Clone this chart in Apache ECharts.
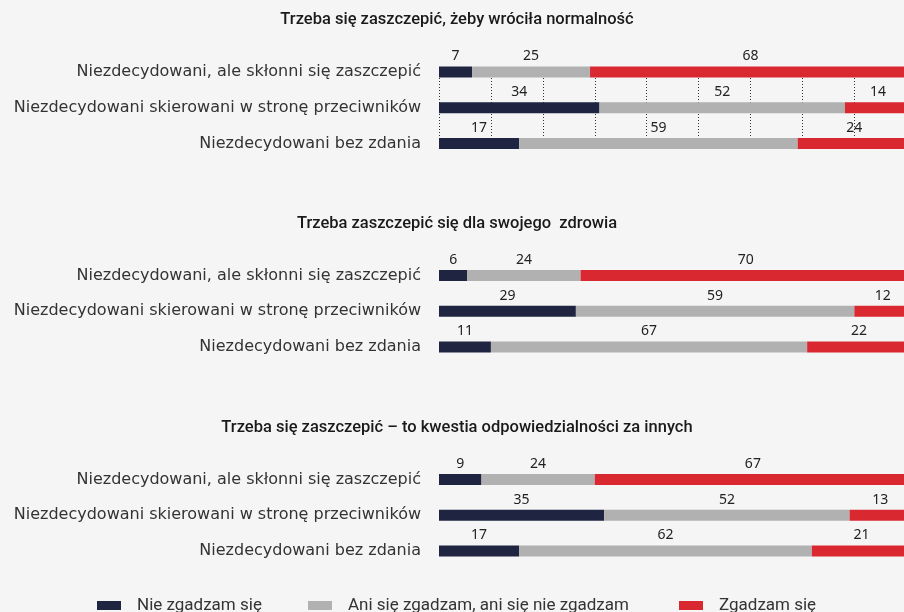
<!DOCTYPE html>
<html>
<head>
<meta charset="utf-8">
<script src="https://cdn.jsdelivr.net/npm/echarts@6/dist/echarts.min.js"></script>
<style>
  html, body { margin: 0; padding: 0; background: #f5f5f5; }
  #chart { width: 904px; height: 612px; }
</style>
</head>
<body>
<div id="chart"></div>
<script>
var categories = [
  "Niezdecydowani, ale skłonni się zaszczepić",
  "Niezdecydowani skierowani w stronę przeciwników",
  "Niezdecydowani bez zdania"
];
var titles = [
  "Trzeba się zaszczepić, żeby wróciła normalność",
  "Trzeba zaszczepić się dla swojego  zdrowia",
  "Trzeba się zaszczepić – to kwestia odpowiedzialności za innych"
];
var seriesNames = ["Nie zgadzam się", "Ani się zgadzam, ani się nie zgadzam", "Zgadzam się"];
// one row per panel, values in category order
var disagree = [[7, 34, 17], [6, 29, 11], [9, 35, 17]];
var neutral  = [[25, 52, 59], [24, 59, 67], [24, 52, 62]];
var agree    = [[68, 14, 24], [70, 12, 22], [67, 13, 21]];

var colors = ["#1f2540", "#b1b1b1", "#d92830"];
var panelTop = [72, 275.5, 479.5];
var titleTop = [6, 210, 414];

var dom = document.getElementById("chart");
var myChart = echarts.init(dom);

var grids = [], xAxes = [], yAxes = [], series = [], titleList = [];
var values = [disagree, neutral, agree];

for (var p = 0; p < 3; p++) {
  grids.push({ left: 439, width: 472, top: panelTop[p], height: 71.5, outerBoundsMode: "none" });
  xAxes.push({
    type: "value", gridIndex: p, min: 0, max: 100, interval: 11,
    axisLabel: { show: false }, axisLine: { show: false }, axisTick: { show: false },
    splitLine: { show: p === 0, lineStyle: { type: [1, 2], color: "#333", width: 1 } }
  });
  yAxes.push({
    type: "category", gridIndex: p, data: categories, inverse: true, boundaryGap: false,
    axisLine: { show: false }, axisTick: { show: false }, splitLine: { show: false },
    axisLabel: { margin: 18, fontSize: 16, color: "#333", fontFamily: "DejaVu Sans" }
  });
  titleList.push({
    text: titles[p], left: 452, top: titleTop[p], textAlign: "center",
    textStyle: { fontSize: 16.5, fontWeight: 500, color: "#1a1a1a", fontFamily: "Roboto" }
  });
  for (var s = 0; s < 3; s++) {
    series.push({
      name: seriesNames[s], type: "bar", stack: "p" + p,
      xAxisIndex: p, yAxisIndex: p, barWidth: 11,
      itemStyle: { color: colors[s] },
      label: {
        show: true, position: "top", distance: 3,
        fontSize: 14, color: "#222", fontFamily: "Noto Sans"
      },
      data: values[s][p]
    });
  }
}

var legendLeft = [97, 308, 679];
var legends = [];
for (var i = 0; i < 3; i++) {
  legends.push({
    data: [seriesNames[i]], left: legendLeft[i], top: 597, padding: 0,
    itemWidth: 24, itemHeight: 9, icon: "rect",
    textStyle: { fontSize: 17, color: "#333", fontFamily: "Roboto", padding: [0, 0, 0, 11] }
  });
}

myChart.setOption({
  backgroundColor: "#f5f5f5",
  animation: false,
  title: titleList,
  legend: legends,
  grid: grids,
  xAxis: xAxes,
  yAxis: yAxes,
  series: series
});
</script>
</body>
</html>
